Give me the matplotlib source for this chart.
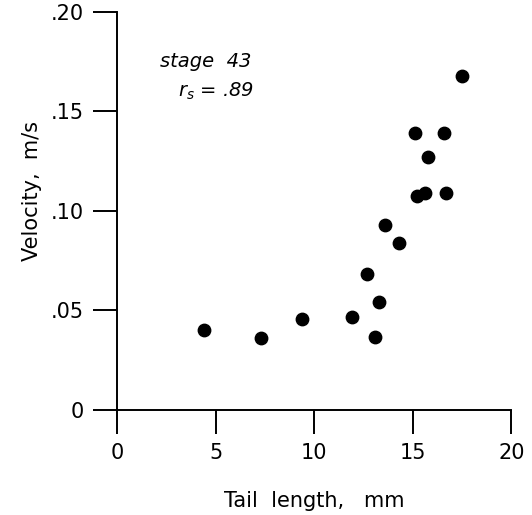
import matplotlib
matplotlib.use("Agg")
import matplotlib.pyplot as plt

# tail length (mm) and velocity (m/s), stage 43
tail_length = [4.4, 7.3, 9.4, 11.9, 12.7, 13.3, 13.1, 13.6, 14.3,
               15.1, 16.6, 15.8, 15.2, 15.6, 16.7, 17.5]
velocity = [0.040, 0.036, 0.0455, 0.0465, 0.0685, 0.054, 0.0365, 0.093, 0.084,
            0.139, 0.139, 0.127, 0.1075, 0.109, 0.109, 0.168]

x_ticks = [0, 5, 10, 15, 20]
x_tick_labels = ["0", "5", "10", "15", "20"]
y_ticks = [0, 0.05, 0.10, 0.15, 0.20]
y_tick_labels = ["0", ".05", ".10", ".15", ".20"]

plt.rcParams["font.family"] = ["DejaVu Sans"]

fig = plt.figure(figsize=(5.32, 5.15), dpi=100)
ax = fig.add_axes([0.22, 0.204, 0.741, 0.773])

ax.scatter(tail_length, velocity, s=80, color="black", zorder=3, clip_on=False)

ax.set_xlim(0, 20)
ax.set_ylim(0, 0.20)
ax.spines["top"].set_visible(False)
ax.spines["right"].set_visible(False)
for side in ("left", "bottom"):
    ax.spines[side].set_linewidth(1.4)

ax.set_xticks(x_ticks)
ax.set_xticklabels(x_tick_labels)
ax.set_yticks(y_ticks)
ax.set_yticklabels(y_tick_labels)
ax.tick_params(axis="both", direction="out", length=17, width=1.4,
               labelsize=15, pad=7)

ax.set_xlabel("Tail  length,   mm", fontsize=15, labelpad=20)
ax.set_ylabel("Velocity,  m/s", fontsize=15)
ax.yaxis.set_label_coords(-0.19, 0.55)

ax.text(4.5, 0.175, "stage  43", fontsize=14, style="italic", ha="center", va="center")
ax.text(5.0, 0.160, r"$r_s$ = .89", fontsize=14, style="italic", ha="center", va="center")

fig.savefig("out.png", dpi=100)
